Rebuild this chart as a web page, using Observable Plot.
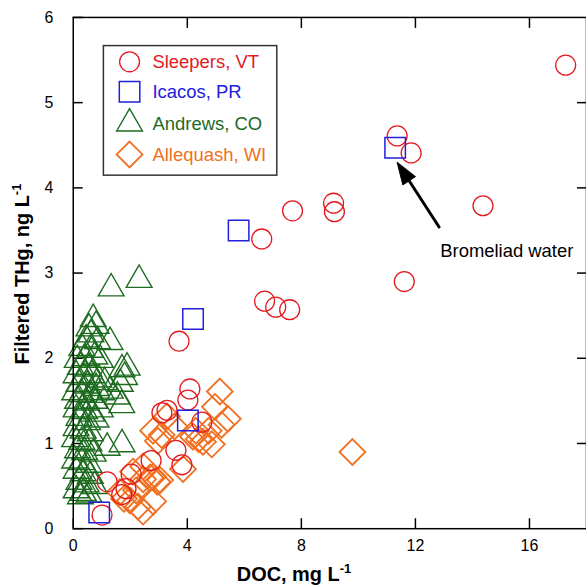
<!DOCTYPE html>
<html>
<head>
<meta charset="utf-8">
<script src="https://cdn.jsdelivr.net/npm/d3@7"></script>
<script src="https://cdn.jsdelivr.net/npm/@observablehq/plot@0.6"></script>
<style>
  html, body { margin: 0; padding: 0; background: #fff; overflow: hidden; }
  #chart { position: relative; width: 586px; height: 587px; overflow: hidden; }
</style>
</head>
<body>
<div id="chart"></div>
<script>
// Filtered total mercury vs dissolved organic carbon at four watersheds
const siteNames = ["Sleepers, VT", "Icacos, PR", "Andrews, CO", "Allequash, WI"];
const siteColors = ["#e3191f", "#2020dc", "#1c6b1f", "#f07020"];

const sleepersDOC = [17.27, 11.36, 11.85, 14.37, 9.13, 9.16, 7.69, 6.61, 11.61, 6.71, 7.10, 7.59, 3.71,
  4.09, 4.02, 3.11, 3.29, 4.51, 3.60, 3.81, 2.73, 2.03, 1.19, 1.70, 1.85, 1.01];
const sleepersTHg = [5.44, 4.61, 4.41, 3.79, 3.82, 3.72, 3.73, 3.40, 2.90, 2.67, 2.60, 2.57, 2.20,
  1.64, 1.51, 1.36, 1.39, 1.25, 0.92, 0.75, 0.80, 0.64, 0.55, 0.40, 0.47, 0.16];

const icacosDOC = [11.29, 5.80, 4.20, 4.02, 0.91];
const icacosTHg = [4.47, 3.50, 2.46, 1.27, 0.19];

const andrewsDOC = [1.33, 2.31,
  0.70, 0.55, 0.80, 0.62, 0.45, 0.85, 1.29, 0.30, 0.60, 0.14, 0.40, 0.75, 0.95, 0.25, 0.55,
  1.71, 1.89, 1.80, 0.10, 0.35, 0.65, 0.90, 1.10, 0.20, 0.50, 0.80, 1.65, 0.05, 0.30, 0.60,
  1.00, 1.30, 1.55, 0.15, 0.45, 0.75, 1.70, 0.10, 0.40, 0.65, 0.95, 0.20, 0.50, 0.80, 0.10,
  0.35, 0.60, 0.05, 0.30, 0.55, 1.19, 1.71, 0.15, 0.40, 0.70, 0.05, 0.30, 0.55, 0.10, 0.35,
  0.60, 0.20, 0.45, 0.75, 0.10, 0.35, 0.55, 0.25];
const andrewsTHg = [2.82, 2.92,
  2.46, 2.35, 2.38, 2.28, 2.22, 2.20, 2.19, 2.12, 2.10, 1.98, 2.00, 2.02, 1.98, 1.90, 1.88,
  1.87, 1.89, 1.78, 1.80, 1.78, 1.80, 1.75, 1.72, 1.70, 1.68, 1.65, 1.70, 1.60, 1.58, 1.57,
  1.60, 1.62, 1.55, 1.50, 1.48, 1.50, 1.45, 1.40, 1.38, 1.35, 1.40, 1.30, 1.25, 1.28, 1.18,
  1.15, 1.12, 1.05, 1.02, 1.00, 0.95, 0.99, 0.92, 0.90, 0.88, 0.80, 0.78, 0.75, 0.68, 0.65,
  0.62, 0.55, 0.52, 0.50, 0.45, 0.42, 0.40, 0.38];

const allequashDOC = [9.79, 5.14, 4.97, 5.42, 5.20, 4.86, 4.40, 4.20, 4.55, 3.85, 2.80, 2.97, 3.29,
  3.10, 3.55, 2.45, 2.70, 2.95, 2.10, 2.45, 2.80, 3.05, 1.64, 1.99, 2.27, 2.45, 2.80, 1.78,
  2.20, 4.75, 4.30];
const allequashTHg = [0.90, 1.61, 1.43, 1.29, 1.22, 0.99, 1.05, 1.08, 1.02, 0.70, 1.15, 1.03, 1.32,
  1.10, 1.20, 0.73, 0.60, 0.55, 0.67, 0.58, 0.61, 0.57, 0.43, 0.33, 0.26, 0.20, 0.32, 0.35,
  0.45, 1.15, 1.15];

const xTicks = [0, 4, 8, 12, 16];
const yTicks = [0, 1, 2, 3, 4, 5, 6];
const xDomain = [0, 18];
const yDomain = [0, 6];

// "Bromeliad water" callout: arrow from the label toward the Icacos outlier
const calloutText = "Bromeliad water";
const calloutLabel = {x: 12.87, y: 3.26};
const calloutFrom = {x: 12.83, y: 3.54};
const calloutTo = {x: 11.36, y: 4.30};

const rows = (xs, ys) => xs.map((x, i) => ({doc: x, thg: ys[i]}));
const sleepers = rows(sleepersDOC, sleepersTHg);
const icacos = rows(icacosDOC, icacosTHg);
const andrews = rows(andrewsDOC, andrewsTHg);
const allequash = rows(allequashDOC, allequashTHg);

const W = 588, H = 587, mL = 73, mR = 0, mT = 17, mB = 57;
const kx = (W - mL - mR) / (xDomain[1] - xDomain[0]);
const ky = (H - mT - mB) / (yDomain[1] - yDomain[0]);
const headAngle = Math.atan2((calloutTo.x - calloutFrom.x) * kx, (calloutTo.y - calloutFrom.y) * ky) * 180 / Math.PI;

const headShape = {
  draw(ctx, l) {
    ctx.moveTo(0, -l);
    ctx.lineTo(-7.5, 0);
    ctx.lineTo(7.5, 0);
    ctx.closePath();
  }
};

const font = "'Liberation Sans', Arial, Helvetica, sans-serif";
const intFormat = (d) => String(d);

const chart = Plot.plot({
  width: W,
  height: H,
  marginLeft: mL,
  marginRight: mR,
  marginTop: mT,
  marginBottom: mB,
  style: {fontFamily: font, fontSize: "16px", background: "#fff", color: "#000"},
  x: {domain: xDomain, axis: null},
  y: {domain: yDomain, axis: null},
  marks: [
    Plot.axisX(xTicks, {anchor: "bottom", tickSize: -10, tickPadding: 21, tickFormat: intFormat, fontSize: 16, strokeWidth: 1.5, label: null}),
    Plot.axisX(xTicks.slice(1), {anchor: "top", tickSize: -10, tickFormat: () => "", strokeWidth: 1.5, label: null}),
    Plot.axisY(yTicks, {anchor: "left", tickSize: -10, tickPadding: 30, tickFormat: intFormat, fontSize: 16, strokeWidth: 1.5, label: null}),
    Plot.axisY(yTicks.slice(1, -1), {anchor: "right", tickSize: -10, tickFormat: () => "", strokeWidth: 1.5, label: null}),
    Plot.dot(andrews, {x: "doc", y: "thg", symbol: "triangle", r: 9.6, stroke: siteColors[2], strokeWidth: 1.4, fill: "none"}),
    Plot.dot(allequash, {x: "doc", y: "thg", symbol: "diamond2", r: 11.7, stroke: siteColors[3], strokeWidth: 1.8, fill: "none"}),
    Plot.dot(sleepers, {x: "doc", y: "thg", symbol: "circle", r: 10, stroke: siteColors[0], strokeWidth: 1.3, fill: "none"}),
    Plot.dot(icacos, {x: "doc", y: "thg", symbol: "square", r: 11.6, stroke: siteColors[1], strokeWidth: 1.5, fill: "none"}),
    Plot.arrow([{x1: calloutFrom.x, y1: calloutFrom.y, x2: calloutTo.x, y2: calloutTo.y}],
      {x1: "x1", y1: "y1", x2: "x2", y2: "y2", headLength: 0, insetEnd: 14, strokeWidth: 3, stroke: "#000"}),
    Plot.vector([calloutTo], {x: "x", y: "y", length: 22, rotate: headAngle, anchor: "end",
      shape: headShape, fill: "#000", stroke: "#000", strokeWidth: 1}),
    Plot.text([calloutLabel], {x: "x", y: "y", text: () => calloutText, textAnchor: "start",
      lineAnchor: "middle", fontSize: 18.5, fill: "#000"}),
    Plot.frame({stroke: "#000", strokeWidth: 1.5})
  ]
});

document.getElementById("chart").appendChild(chart);

const svg = d3.select(chart);

// Axis titles with superscript units
const xTitle = svg.append("text")
  .attr("x", 295).attr("y", 583)
  .attr("text-anchor", "middle")
  .style("font-family", font).style("font-weight", "bold").style("font-size", "20px")
  .attr("fill", "#000");
xTitle.append("tspan").text("DOC, mg L");
xTitle.append("tspan").attr("dy", -8).style("font-size", "13px").text("-1");

const yTitle = svg.append("text")
  .attr("transform", "translate(29,275) rotate(-90)")
  .attr("text-anchor", "middle")
  .style("font-family", font).style("font-weight", "bold").style("font-size", "20px")
  .attr("fill", "#000");
yTitle.append("tspan").text("Filtered THg, ng L");
yTitle.append("tspan").attr("dy", -8).style("font-size", "13px").text("-1");

// Legend box
const legend = svg.append("g").attr("transform", "translate(103,45)").attr("text-anchor", "start");
legend.append("rect").attr("x", 0.75).attr("y", 0.75).attr("width", 174).attr("height", 130)
  .attr("fill", "#fff").attr("stroke", "#333").attr("stroke-width", 1.5);
const legendSymbols = [
  {type: d3.symbolCircle, r: 10, sw: 1.3},
  {type: d3.symbolSquare, r: 11.6, sw: 1.5},
  {type: d3.symbolTriangle, r: 9.6, sw: 1.4},
  {type: d3.symbolDiamond2, r: 11.7, sw: 1.8}
];
const rowY = [17, 47, 79, 110];
siteNames.forEach((name, i) => {
  const s = legendSymbols[i];
  legend.append("path")
    .attr("d", d3.symbol(s.type, Math.PI * s.r * s.r)())
    .attr("transform", `translate(27,${rowY[i]})`)
    .attr("fill", "none").attr("stroke", siteColors[i]).attr("stroke-width", s.sw);
  legend.append("text")
    .attr("x", 50).attr("y", rowY[i]).attr("dy", "0.35em")
    .attr("text-anchor", "start")
    .style("font-family", font).style("font-size", "18.5px")
    .attr("fill", siteColors[i]).text(name);
});
</script>
</body>
</html>
